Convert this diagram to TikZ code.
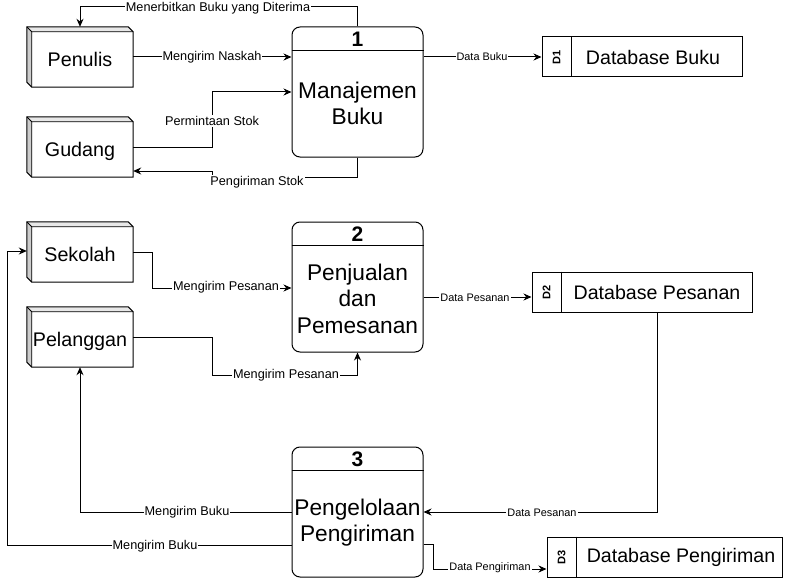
\documentclass[tikz,border=0pt]{standalone}
\usepackage{fontspec}
\setmainfont{Liberation Sans}
\usetikzlibrary{arrows.meta,calc}
\tikzset{
  x=1pt,y=-1pt,
  entity/.style={rectangle,minimum width=106pt,minimum height=60pt,inner sep=0pt,text height=19.1pt,text depth=0pt,font=\fontsize{19.7}{23}\selectfont},
  proc/.style={draw,rounded corners=8pt,minimum width=131pt,minimum height=130pt,inner sep=0pt,line width=1pt},
  pnum/.style={font=\bfseries\fontsize{21}{24}\selectfont,inner sep=0pt},
  ptext/.style={align=center,font=\fontsize{22.7}{26.5}\selectfont,inner sep=0pt},
  store/.style={draw,rectangle,minimum height=40pt,inner sep=0pt,line width=1pt},
  stext/.style={font=\fontsize{19.6}{23}\selectfont,inner sep=0pt},
  sid/.style={font=\bfseries\fontsize{11}{13}\selectfont,rotate=90,inner sep=0pt},
  flow/.style={line width=1pt},
  arr/.style={flow,-{Stealth[length=8pt,width=7pt]}},
  lbl/.style={fill=white,inner sep=1pt,font=\fontsize{12.7}{15}\selectfont},
  lbs/.style={fill=white,inner sep=1pt,font=\fontsize{10.9}{13}\selectfont},
}
\newcommand\entcube[1]{%
  \fill[gray!18] (#1.north west) -- ($(#1.north east)+(-5,0)$) -- ($(#1.north east)+(0,5)$) -- ($(#1.north west)+(5,5)$) -- cycle;
  \fill[gray!40] (#1.north west) -- ($(#1.north west)+(5,5)$) -- ($(#1.south west)+(5,0)$) -- ($(#1.south west)+(0,-5)$) -- cycle;
  \draw[line width=1pt] (#1.north west) -- ($(#1.north east)+(-5,0)$) -- ($(#1.north east)+(0,5)$) -- (#1.south east) -- ($(#1.south west)+(5,0)$) -- ($(#1.south west)+(0,-5)$) -- cycle;
  \draw[line width=0.8pt] ($(#1.north west)+(5,5)$) -- ($(#1.north east)+(0,5)$)
     ($(#1.north west)+(5,5)$) -- ($(#1.south west)+(5,0)$)
     (#1.north west) -- ($(#1.north west)+(5,5)$);
}
\begin{document}
\begin{tikzpicture}
\useasboundingbox (0,0) rectangle (793,578);

% entities
\node[entity] (pen) at (80,57) {Penulis};
\node[entity] (gud) at (80,147) {Gudang};
\node[entity] (sek) at (80,252) {Sekolah};
\node[entity] (pel) at (80,337) {Pelanggan};
\entcube{pen}\entcube{gud}\entcube{sek}\entcube{pel}

% processes
\node[proc] (p1) at (357.5,92) {};
\node[proc] (p2) at (357.5,287) {};
\node[proc] (p3) at (357.5,512) {};
\foreach \p/\n in {p1/1,p2/2,p3/3}{
  \draw[line width=1pt] ($(\p.north west)+(0,24)$) -- ($(\p.north east)+(0,24)$);
  \node[pnum] (\p num) at ($(\p.north)+(0,12.5)$) {\n};
}
\node[ptext] (p1t) at ($(p1.south)+(0,-54)$) {Manajemen\\Buku};
\node[ptext] (p2t) at ($(p2.south)+(0,-54)$) {Penjualan\\dan\\Pemesanan};
\node[ptext] (p3t) at ($(p3.south)+(0,-55)$) {Pengelolaan\\Pengiriman};

% data stores
\node[store,minimum width=200pt] (d1) at (642,57) {};
\node[store,minimum width=220pt] (d2) at (642,292) {};
\node[store,minimum width=235pt] (d3) at (664.5,557) {};
\foreach \d/\i/\t/\dx in {d1/D1/Database Buku/-4,d2/D2/Database Pesanan/0,d3/D3/Database Pengiriman/1.5}{
  \draw[line width=1pt] ($(\d.north west)+(30,0)$) -- ($(\d.south west)+(30,0)$);
  \node[sid] (\d id) at ($(\d.west)+(15,0)$) {\i};
  \node[stext] (\d txt) at ($($(\d.east)!0.5!($(\d.west)+(30,0)$)$)+(\dx,0)$) {\t};
}

% flows
\draw[arr] (p1.north) -- (357.5,7) -- (80,7) -- (pen.north);
\node[lbl] (l1) at (218,8.5) {Menerbitkan Buku yang Diterima};

\draw[arr] (pen.east) -- (p1.west |- pen.east);
\node[lbl] (l2) at (212,57) {Mengirim Naskah};

\draw[arr] (gud.east) -- (212,147) -- (212,92) -- (p1.west |- 212,92);
\node[lbl] (l3) at (212,121) {Permintaan Stok};

\draw[arr] (p1.south) -- (357.5,177) -- (212,177) -- (212,171) -- (gud.east |- 0,171);
\node[lbl] (l4) at (257,182) {Pengiriman Stok};

\draw[arr] (p1.east |- 0,57) -- (d1.west);
\node[lbs] (l5) at (482,57) {Data Buku};

\draw[arr] (sek.east) -- (152,252) -- (152,288) -- (p2.west |- 0,288);
\node[lbl] (l6) at (226,287) {Mengirim Pesanan};

\draw[arr] (pel.east) -- (212,337) -- (212,375) -- (357.5,375) -- (p2.south);
\node[lbl] (l7) at (286,375) {Mengirim Pesanan};

\draw[arr] (p2.east |- 0,297) -- (d2.west |- 0,297);
\node[lbs] (l8) at (475,298) {Data Pesanan};

\draw[arr] (d2.south -| 657,0) -- (657,512) -- (p3.east |- 0,512);
\node[lbs] (l9) at (542,513) {Data Pesanan};

\draw[arr] (p3.west |- 0,512) -- (80,512) -- (pel.south);
\node[lbl] (l10) at (187,512) {Mengirim Buku};

\draw[arr] (p3.west |- 0,545) -- (7,545) -- (7,251) -- (sek.west |- 0,251);
\node[lbl] (l11) at (155,546) {Mengirim Buku};

\draw[arr] (p3.east |- 0,544) -- (433,544) -- (433,569) -- (d3.west |- 0,569);
\node[lbs] (l12) at (490,568) {Data Pengiriman};
\end{tikzpicture}
\end{document}
